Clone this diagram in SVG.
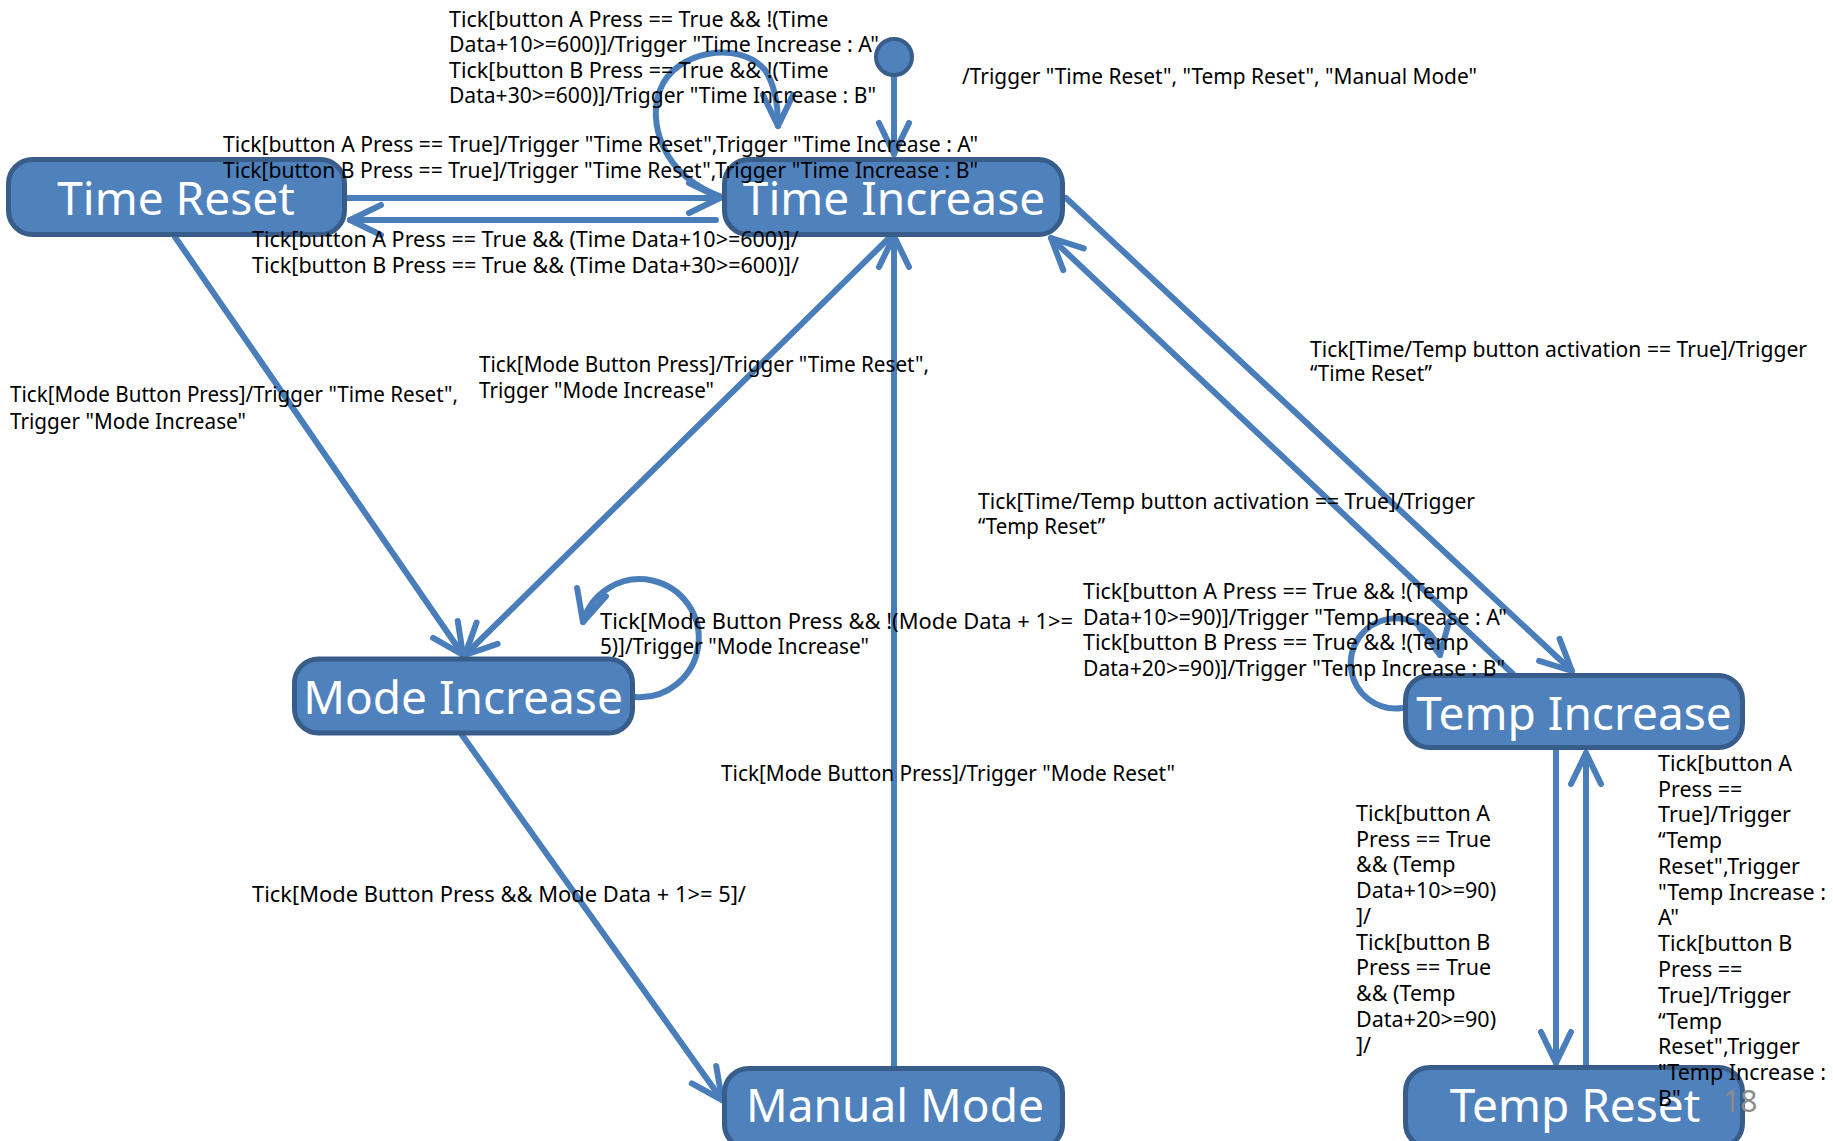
<svg xmlns="http://www.w3.org/2000/svg" width="1833" height="1141" viewBox="0 0 1833 1141">
<style>
.node rect{fill:#4F81BD;stroke:#385D8A;stroke-width:5}
.nl{font-family:"Noto Sans","Open Sans","DejaVu Sans",sans-serif;font-size:46px;fill:#FFFFFF;text-anchor:middle}
.c{fill:none;stroke:#4A7EBB;stroke-width:6;stroke-linecap:round;stroke-linejoin:round}
.t{font-family:"Noto Sans","Open Sans","DejaVu Sans",sans-serif;font-size:21.5px;fill:#000000}
.pg{font-family:"Noto Sans","Open Sans",sans-serif;font-size:30px;fill:#8C8C8C}
</style>
<defs>
<marker id="arr" markerUnits="userSpaceOnUse" markerWidth="60" markerHeight="60" refX="0" refY="0" orient="auto" overflow="visible">
<path d="M -31 -15 L 0 0 L -31 15" fill="none" stroke="#4A7EBB" stroke-width="6" stroke-linecap="round" stroke-linejoin="round"/>
</marker>
</defs>
<rect x="0" y="0" width="1833" height="1141" fill="#FFFFFF"/>

<g id="connectors">
<path class="c" d="M 894 77 L 894 154" marker-end="url(#arr)"/>
<path class="c" d="M 347 198 L 720 198" marker-end="url(#arr)"/>
<path class="c" d="M 716 220 L 350 220" marker-end="url(#arr)"/>
<path class="c" d="M 722 197 C 660 175, 648 120, 660 90 C 675 50, 740 40, 765 70 C 775 85, 778 105, 778 126" marker-end="url(#arr)"/>
<path class="c" d="M 175 237 L 463 655" marker-end="url(#arr)"/>
<path class="c" d="M 888 239 L 465 655" marker-end="url(#arr)"/>
<path class="c" d="M 894 1066 L 894 236" marker-end="url(#arr)"/>
<path class="c" d="M 462 735 L 722 1100" marker-end="url(#arr)"/>
<path class="c" d="M 1066 198 L 1572 671" marker-end="url(#arr)"/>
<path class="c" d="M 1513 674 L 1051 238" marker-end="url(#arr)"/>
<path class="c" d="M 635 697 A 59 59 0 1 0 583 622" marker-end="url(#arr)"/>
<path class="c" d="M 1402 708 A 45 45 0 1 1 1440 655" marker-end="url(#arr)"/>
<path class="c" d="M 1556 751 L 1556 1063" marker-end="url(#arr)"/>
<path class="c" d="M 1586 1066 L 1586 753" marker-end="url(#arr)"/>
</g>

<g id="initial">
<circle cx="894" cy="57" r="18" fill="#4F81BD" stroke="#385D8A" stroke-width="4"/>
</g>

<g id="time-reset" class="node">
<rect x="8.5" y="159.5" width="336" height="75" rx="24"/>
<text class="nl" x="176" y="215">Time Reset</text>
</g>
<g id="time-increase" class="node">
<rect x="724.5" y="159.5" width="338" height="75" rx="24"/>
<text class="nl" x="894" y="215">Time Increase</text>
</g>
<g id="mode-increase" class="node">
<rect x="294.5" y="659" width="338" height="74" rx="24"/>
<text class="nl" x="463" y="714">Mode Increase</text>
</g>
<g id="temp-increase" class="node">
<rect x="1405.5" y="675.5" width="337" height="72" rx="24"/>
<text class="nl" x="1574" y="730">Temp Increase</text>
</g>
<g id="manual-mode" class="node">
<rect x="724.5" y="1068.5" width="338" height="80" rx="24"/>
<text class="nl" x="895" y="1122">Manual Mode</text>
</g>
<g id="temp-reset" class="node">
<rect x="1405.5" y="1067.5" width="337" height="80" rx="24"/>
<text class="nl" x="1575" y="1122">Temp Reset</text>
</g>

<g id="labels">
<text class="t"><tspan x="449" y="26.5">Tick[button A Press == True &amp;&amp; !(Time</tspan><tspan x="449" y="52" textLength="430" lengthAdjust="spacingAndGlyphs">Data+10&gt;=600)]/Trigger "Time Increase : A"</tspan><tspan x="449" y="77.5">Tick[button B Press == True &amp;&amp; !(Time</tspan><tspan x="449" y="103" textLength="427" lengthAdjust="spacingAndGlyphs">Data+30&gt;=600)]/Trigger "Time Increase : B"</tspan></text>
<text class="t" x="962" y="84" textLength="515" lengthAdjust="spacingAndGlyphs">/Trigger "Time Reset", "Temp Reset", "Manual Mode"</text>
<text class="t"><tspan x="223" y="152" textLength="755" lengthAdjust="spacingAndGlyphs">Tick[button A Press == True]/Trigger "Time Reset",Trigger "Time Increase : A"</tspan><tspan x="223" y="177.5" textLength="755" lengthAdjust="spacingAndGlyphs">Tick[button B Press == True]/Trigger "Time Reset",Trigger "Time Increase : B"</tspan></text>
<text class="t"><tspan x="252" y="247">Tick[button A Press == True &amp;&amp; (Time Data+10&gt;=600)]/</tspan><tspan x="252" y="272.5">Tick[button B Press == True &amp;&amp; (Time Data+30&gt;=600)]/</tspan></text>
<text class="t"><tspan x="10" y="402" textLength="448" lengthAdjust="spacingAndGlyphs">Tick[Mode Button Press]/Trigger "Time Reset",</tspan><tspan x="10" y="428.5" textLength="236" lengthAdjust="spacingAndGlyphs">Trigger "Mode Increase"</tspan></text>
<text class="t"><tspan x="479" y="372" textLength="450" lengthAdjust="spacingAndGlyphs">Tick[Mode Button Press]/Trigger "Time Reset",</tspan><tspan x="479" y="397.5" textLength="235" lengthAdjust="spacingAndGlyphs">Trigger "Mode Increase"</tspan></text>
<text class="t"><tspan x="1310" y="357" textLength="497" lengthAdjust="spacingAndGlyphs">Tick[Time/Temp button activation == True]/Trigger</tspan><tspan x="1310" y="381" textLength="122" lengthAdjust="spacingAndGlyphs">“Time Reset”</tspan></text>
<text class="t"><tspan x="978" y="509" textLength="497" lengthAdjust="spacingAndGlyphs">Tick[Time/Temp button activation == True]/Trigger</tspan><tspan x="978" y="534" textLength="127" lengthAdjust="spacingAndGlyphs">“Temp Reset”</tspan></text>
<text class="t"><tspan x="600" y="629" textLength="473" lengthAdjust="spacingAndGlyphs">Tick[Mode Button Press &amp;&amp; !(Mode Data + 1&gt;=</tspan><tspan x="600" y="654" textLength="269" lengthAdjust="spacingAndGlyphs">5)]/Trigger "Mode Increase"</tspan></text>
<text class="t"><tspan x="1083" y="599">Tick[button A Press == True &amp;&amp; !(Temp</tspan><tspan x="1083" y="624.5" textLength="424" lengthAdjust="spacingAndGlyphs">Data+10&gt;=90)]/Trigger "Temp Increase : A"</tspan><tspan x="1083" y="650">Tick[button B Press == True &amp;&amp; !(Temp</tspan><tspan x="1083" y="675.5" textLength="422" lengthAdjust="spacingAndGlyphs">Data+20&gt;=90)]/Trigger "Temp Increase : B"</tspan></text>
<text class="t" x="721" y="781" textLength="454" lengthAdjust="spacingAndGlyphs">Tick[Mode Button Press]/Trigger "Mode Reset"</text>
<text class="t" x="252" y="902" textLength="494" lengthAdjust="spacingAndGlyphs">Tick[Mode Button Press &amp;&amp; Mode Data + 1&gt;= 5]/</text>
<text class="t"><tspan x="1356" y="820.7">Tick[button A</tspan><tspan x="1356" y="846.5">Press == True</tspan><tspan x="1356" y="872.3">&amp;&amp; (Temp</tspan><tspan x="1356" y="898">Data+10&gt;=90)</tspan><tspan x="1356" y="923.8">]/</tspan><tspan x="1356" y="949.6">Tick[button B</tspan><tspan x="1356" y="975.4">Press == True</tspan><tspan x="1356" y="1001.2">&amp;&amp; (Temp</tspan><tspan x="1356" y="1027">Data+20&gt;=90)</tspan><tspan x="1356" y="1052.8">]/</tspan></text>
<text class="t"><tspan x="1658" y="770.7">Tick[button A</tspan><tspan x="1658" y="796.5">Press ==</tspan><tspan x="1658" y="822.3">True]/Trigger</tspan><tspan x="1658" y="848">“Temp</tspan><tspan x="1658" y="873.8">Reset",Trigger</tspan><tspan x="1658" y="899.6">"Temp Increase :</tspan><tspan x="1658" y="925.4">A"</tspan><tspan x="1658" y="951.2">Tick[button B</tspan><tspan x="1658" y="977">Press ==</tspan><tspan x="1658" y="1002.8">True]/Trigger</tspan><tspan x="1658" y="1028.6">“Temp</tspan><tspan x="1658" y="1054.4">Reset",Trigger</tspan><tspan x="1658" y="1080.2">"Temp Increase :</tspan><tspan x="1658" y="1106">B"</tspan></text>
<text class="pg" x="1723" y="1112">18</text>
</g>
</svg>
